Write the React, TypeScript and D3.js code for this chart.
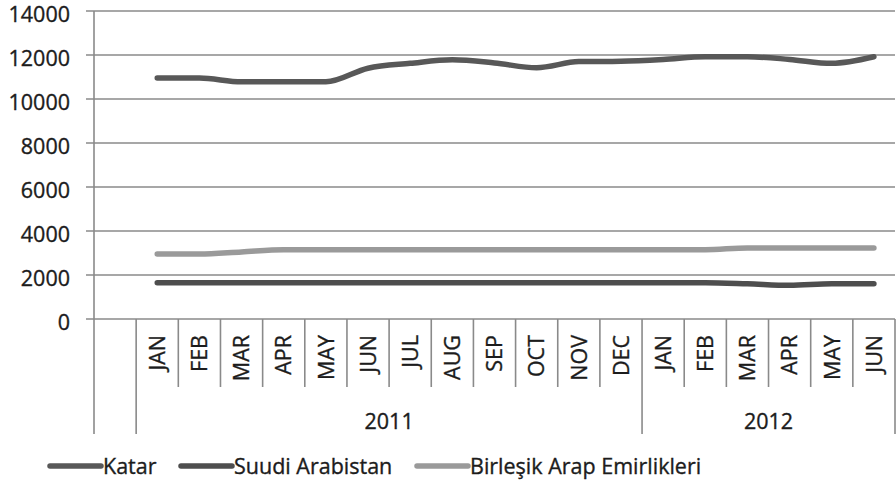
import React, { useRef, useEffect } from "react";
import * as d3 from "d3";

// months along the x axis (first slot is an empty category)
const months = ["", "JAN", "FEB", "MAR", "APR", "MAY", "JUN", "JUL", "AUG", "SEP", "OCT", "NOV", "DEC", "JAN", "FEB", "MAR", "APR", "MAY", "JUN"];
const yearLabels = ["", "2011", "2012"];
const yearSpans = [1, 12, 6];
const yTicks = [0, 2000, 4000, 6000, 8000, 10000, 12000, 14000];

// series values, JAN 2011 .. JUN 2012
const katar = [10950, 10950, 10780, 10780, 10780, 11400, 11620, 11780, 11640, 11420, 11700, 11720, 11800, 11920, 11920, 11800, 11620, 11920];
const suudi = [1650, 1650, 1650, 1650, 1650, 1650, 1650, 1650, 1650, 1650, 1650, 1650, 1650, 1650, 1600, 1530, 1600, 1600];
const bae = [2950, 2950, 3050, 3150, 3150, 3150, 3150, 3150, 3150, 3150, 3150, 3150, 3150, 3150, 3230, 3230, 3230, 3230];

const seriesNames = ["Katar", "Suudi Arabistan", "Birleşik Arap Emirlikleri"];
const seriesColors = ["#585858", "#4e4e4e", "#9a9a9a"];

const FONT = "'Open Sans', sans-serif";

const App: React.FC = () => {
  const svgRef = useRef<SVGSVGElement | null>(null);
  const width = 896;
  const height = 483;

  useEffect(() => {
    const svg = d3.select(svgRef.current);
    svg.selectAll("*").remove();

    const left = 94;
    const right = 895;
    const zeroY = 319;
    const topY = 11;
    const gridColor = "#8a8a8a";
    const textColor = "#1c1c1c";

    const x = d3.scaleBand<number>().domain(d3.range(months.length)).range([left, right]).padding(0);
    const y = d3.scaleLinear().domain([0, 14000]).range([zeroY, topY]);

    // little helper so all labels look the same (slightly heavy, like the print)
    const styleText = (sel: any) =>
      sel
        .style("font-family", FONT)
        .style("font-size", "21.5px")
        .style("fill", textColor)
        .style("stroke", textColor)
        .style("stroke-width", 0.35);

    // gridlines
    svg
      .append("g")
      .selectAll("line")
      .data(yTicks)
      .enter()
      .append("line")
      .attr("x1", left - 8)
      .attr("x2", right)
      .attr("y1", (d) => y(d))
      .attr("y2", (d) => y(d))
      .attr("stroke", gridColor)
      .attr("stroke-width", 1.6);

    // y labels
    svg
      .append("g")
      .selectAll("text")
      .data(yTicks)
      .enter()
      .append("text")
      .attr("x", 70)
      .attr("y", (d) => y(d))
      .attr("dy", "0.52em")
      .attr("text-anchor", "end")
      .call(styleText)
      .text((d) => String(d));

    // y axis line
    svg
      .append("line")
      .attr("x1", left)
      .attr("x2", left)
      .attr("y1", topY)
      .attr("y2", 434)
      .attr("stroke", gridColor)
      .attr("stroke-width", 1.6);

    // month dividers and group dividers
    const groupEdges: number[] = [0];
    yearSpans.forEach((s, i) => groupEdges.push(groupEdges[i] + s));
    const bw = x.bandwidth();
    for (let i = 1; i <= months.length; i++) {
      const xx = left + i * bw;
      const isGroup = groupEdges.includes(i);
      svg
        .append("line")
        .attr("x1", xx)
        .attr("x2", xx)
        .attr("y1", zeroY)
        .attr("y2", isGroup ? 434 : 387)
        .attr("stroke", gridColor)
        .attr("stroke-width", 1.6);
    }

    // month labels
    svg
      .append("g")
      .selectAll("text")
      .data(months.map((m, i) => ({ m, i })).filter((d) => d.m !== ""))
      .enter()
      .append("text")
      .attr("transform", (d) => `translate(${x(d.i)! + bw / 2},335) rotate(-90)`)
      .attr("text-anchor", "end")
      .attr("dy", "0.36em")
      .call(styleText)
      .text((d) => d.m);

    // year labels
    yearLabels.forEach((lab, i) => {
      if (!lab) return;
      const x0 = left + groupEdges[i] * bw;
      const x1 = left + groupEdges[i + 1] * bw;
      svg
        .append("text")
        .attr("x", (x0 + x1) / 2)
        .attr("y", 429)
        .attr("text-anchor", "middle")
        .call(styleText)
        .text(lab);
    });

    // lines
    const line = d3
      .line<number>()
      .x((_, i) => x(i + 1)! + bw / 2)
      .y((d) => y(d))
      .curve(d3.curveMonotoneX);

    [bae, suudi, katar].forEach((s, k) => {
      const idx = 2 - k;
      svg
        .append("path")
        .datum(s)
        .attr("fill", "none")
        .attr("stroke", seriesColors[idx])
        .attr("stroke-width", 5.5)
        .attr("stroke-linecap", "round")
        .attr("stroke-linejoin", "round")
        .attr("d", line);
    });

    // legend
    const legendX = [50, 181, 417];
    const legendY = 466;
    seriesNames.forEach((name, i) => {
      svg
        .append("line")
        .attr("x1", legendX[i])
        .attr("x2", legendX[i] + 51)
        .attr("y1", legendY)
        .attr("y2", legendY)
        .attr("stroke", seriesColors[i])
        .attr("stroke-width", 5.5)
        .attr("stroke-linecap", "round");
      svg
        .append("text")
        .attr("x", legendX[i] + 53)
        .attr("y", legendY)
        .attr("dy", "0.38em")
        .call(styleText)
        .text(name);
    });
  }, []);

  return (
    <svg
      ref={svgRef}
      width={width}
      height={height}
      style={{ position: "absolute", left: 0, top: 0, background: "#fff" }}
    ></svg>
  );
};

export default App;
